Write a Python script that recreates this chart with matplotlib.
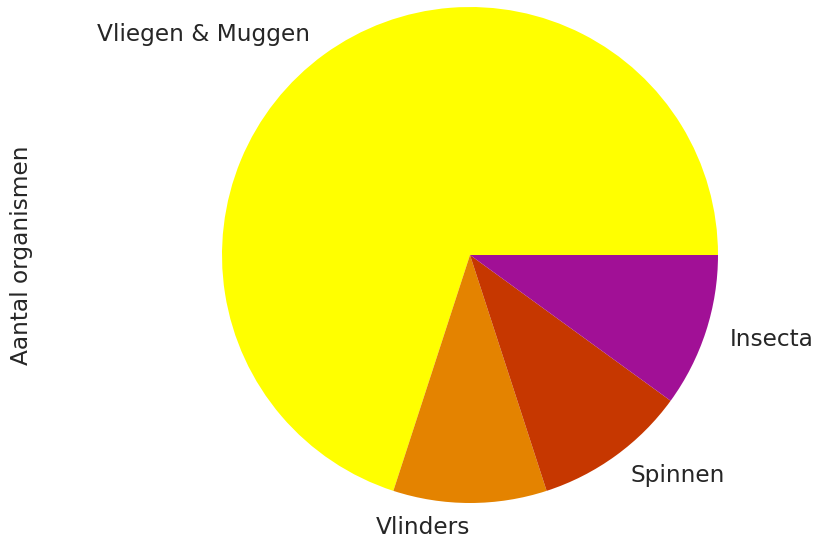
import numpy as np
import matplotlib
matplotlib.use("Agg")
import matplotlib.pyplot as plt

# aantal organismen per groep
groepen = ["Vliegen & Muggen", "Vlinders", "Spinnen", "Insecta"]
aantallen = [7, 1, 1, 1]

# kleuren uit gnuplot_r, zoals bij 6 categorieen
cmap = plt.get_cmap("gnuplot_r")
kleuren = cmap(np.linspace(0, 1, 6))[:len(groepen)]

fig = plt.figure(figsize=(815 / 144, 544 / 144), dpi=144)
# pie wordt getekend in assen van -1.25..1.25, straal 248 px
ax = fig.add_axes([160 / 815, 1 - (255 + 310) / 544, 620 / 815, 620 / 544])
wedges, teksten = ax.pie(aantallen, labels=groepen, colors=kleuren, startangle=0,
                         labeldistance=1.1,
                         textprops={"fontsize": 11.6, "color": "0.15"})
# label recht onder het midden rechts uitlijnen
for t in teksten:
    x, y = t.get_position()
    if abs(x) < 1e-6:
        t.set_horizontalalignment("right")
ax.set_xlim(-1.25, 1.25)
ax.set_ylim(-1.25, 1.25)
ax.set_ylabel("Aantal organismen", fontsize=11.6, color="0.15")
ax.yaxis.set_label_coords(-0.205, 0.5)

fig.savefig("out.png", dpi=144)
